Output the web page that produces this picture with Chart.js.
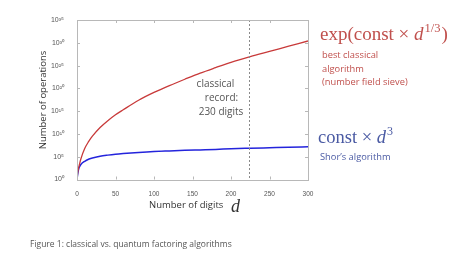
<!DOCTYPE html>
<html>
<head>
<meta charset="utf-8">
<script src="https://cdn.jsdelivr.net/npm/chart.js@4/dist/chart.umd.min.js"></script>
<style>
  html, body { margin: 0; padding: 0; background: #fff; }
  #chart { display: block; }
</style>
</head>
<body>
<canvas id="chart" width="474" height="262"></canvas>
<script>
// number of digits d (x values)
const digits = [0, 1, 2, 3, 5, 10, 15, 20, 30, 40, 50, 60, 80, 100, 120, 140, 160, 180, 200, 225, 250, 275, 300];
// log10 of operations
const classicalExp = [0, 1.6, 2.5, 3.2, 4.5, 6.8, 8.3, 9.5, 11.4, 12.9, 14.2, 15.3, 17.4, 19.1, 20.6, 22.0, 23.35, 24.55, 25.7, 26.95, 28.1, 29.25, 30.4];
const shorExp = [0, 1.3, 2.2, 2.7, 3.3, 4.0, 4.45, 4.7, 5.1, 5.35, 5.55, 5.7, 5.95, 6.15, 6.28, 6.4, 6.5, 6.6, 6.74, 6.86, 6.97, 7.08, 7.18];
// y ticks (powers of ten) and x ticks
const yTickExps = [0, 5, 10, 15, 20, 25, 30, 35];
const xTicks = [0, 50, 100, 150, 200, 250, 300];
const recordDigits = 224;

const sup = { '0': '⁰', '1': '¹', '2': '²', '3': '³', '4': '⁴', '5': '⁵', '6': '⁶', '7': '⁷', '8': '⁸', '9': '⁹' };
const toSup = n => String(n).split('').map(c => sup[c]).join('');

const RED = '#c0504d';
const BLUE = '#4a5aa3';

const toPoints = exps => digits.map((d, i) => ({ x: d, y: Math.pow(10, exps[i]) }));

const extras = {
    id: 'extras',
    afterDraw(chart) {
        const ctx = chart.ctx;
        const a = chart.chartArea;
        const xs = chart.scales.x;
        const ys = chart.scales.y;
        ctx.save();

        // record line
        const rx = Math.round(xs.getPixelForValue(recordDigits)) + 0.5;
        ctx.strokeStyle = '#8a8a8a';
        ctx.lineWidth = 1;
        ctx.setLineDash([2, 2]);
        ctx.beginPath();
        ctx.moveTo(rx, a.top);
        ctx.lineTo(rx, a.bottom);
        ctx.stroke();
        ctx.setLineDash([]);

        // box + inward ticks
        ctx.strokeStyle = '#b8b8b8';
        ctx.strokeRect(Math.round(a.left) + 0.5, Math.round(a.top) + 0.5, Math.round(a.right - a.left), Math.round(a.bottom - a.top));
        ctx.beginPath();
        xTicks.forEach(v => {
            const px = Math.round(xs.getPixelForValue(v)) + 0.5;
            ctx.moveTo(px, a.bottom); ctx.lineTo(px, a.bottom - 3);
            ctx.moveTo(px, a.top); ctx.lineTo(px, a.top + 3);
        });
        yTickExps.forEach(e => {
            const py = Math.round(ys.getPixelForValue(Math.pow(10, e))) + 0.5;
            ctx.moveTo(a.left, py); ctx.lineTo(a.left + 3, py);
            ctx.moveTo(a.right, py); ctx.lineTo(a.right - 3, py);
        });
        ctx.stroke();

        // record text
        ctx.fillStyle = '#555';
        ctx.font = '10px "Open Sans"';
        ctx.textAlign = 'center';
        ctx.textBaseline = 'middle';
        ctx.fillText('classical', 215.5, 84);
        ctx.fillText('record:', 221.5, 98);
        ctx.fillText('230 digits', 221, 112);

        // axis titles
        ctx.fillStyle = '#333';
        ctx.font = '9.5px "Open Sans"';
        ctx.save();
        ctx.translate(43, 100);
        ctx.rotate(-Math.PI / 2);
        ctx.fillText('Number of operations', 0, 0);
        ctx.restore();
        ctx.textAlign = 'left';
        ctx.fillText('Number of digits', 149, 205);
        ctx.textBaseline = 'alphabetic';
        ctx.font = 'italic 18px "Liberation Serif"';
        ctx.fillText('d', 231, 211.5);

        // classical formula
        let x = 320;
        ctx.fillStyle = RED;
        ctx.font = '19px "Liberation Serif"';
        ctx.fillText('exp(const × ', x, 40);
        x += ctx.measureText('exp(const × ').width;
        ctx.font = 'italic 19px "Liberation Serif"';
        ctx.fillText('d', x, 40);
        x += ctx.measureText('d').width + 1;
        ctx.font = '12.5px "Liberation Serif"';
        ctx.fillText('1/3', x, 32);
        x += ctx.measureText('1/3').width + 1;
        ctx.font = '19px "Liberation Serif"';
        ctx.fillText(')', x, 40);

        ctx.font = '9.3px "Open Sans"';
        ctx.textBaseline = 'middle';
        ctx.fillText('best classical', 322, 55.5);
        ctx.fillText('algorithm', 322, 69);
        ctx.fillText('(number field sieve)', 322, 82.5);

        // shor formula
        x = 318;
        ctx.fillStyle = BLUE;
        ctx.textBaseline = 'alphabetic';
        ctx.font = '18.5px "Liberation Serif"';
        ctx.fillText('const × ', x, 142.5);
        x += ctx.measureText('const × ').width;
        ctx.font = 'italic 18.5px "Liberation Serif"';
        ctx.fillText('d', x, 142.5);
        x += ctx.measureText('d').width + 1;
        ctx.font = '12px "Liberation Serif"';
        ctx.fillText('3', x, 134.5);

        ctx.font = '9.3px "Open Sans"';
        ctx.textBaseline = 'middle';
        ctx.fillText('Shor’s algorithm', 320, 157);

        // caption
        ctx.fillStyle = '#555';
        ctx.font = '8.5px "Open Sans"';
        ctx.fillText('Figure 1: classical vs. quantum factoring algorithms', 30, 244.5);

        ctx.restore();
    }
};

new Chart(document.getElementById('chart').getContext('2d'), {
    type: 'line',
    data: {
        datasets: [
            {
                label: 'classical',
                data: toPoints(classicalExp),
                borderColor: '#c83a3a',
                borderWidth: 1.3,
                pointRadius: 0,
                cubicInterpolationMode: 'monotone',
                fill: false,
            },
            {
                label: 'Shor',
                data: toPoints(shorExp),
                borderColor: '#2424dc',
                borderWidth: 1.5,
                pointRadius: 0,
                cubicInterpolationMode: 'monotone',
                fill: false,
            },
        ],
    },
    options: {
        responsive: false,
        animation: false,
        events: [],
        layout: { padding: { left: 0, right: 166, top: 20, bottom: 0 } },
        plugins: {
            legend: { display: false },
            tooltip: { enabled: false },
        },
        scales: {
            x: {
                type: 'linear',
                min: 0,
                max: 300,
                grid: { display: false },
                border: { display: false },
                afterBuildTicks: scale => { scale.ticks = xTicks.map(v => ({ value: v })); },
                afterFit: scale => { scale.height = 82.5; },
                ticks: {
                    color: '#555',
                    padding: 3,
                    maxRotation: 0,
                    font: { family: 'Liberation Sans', size: 6.5 },
                },
            },
            y: {
                type: 'logarithmic',
                min: 1,
                max: 1e35,
                grid: { display: false },
                border: { display: false },
                afterBuildTicks: scale => { scale.ticks = yTickExps.map(e => ({ value: Math.pow(10, e) })); },
                afterFit: scale => { scale.width = 77; },
                ticks: {
                    color: '#555',
                    padding: 5,
                    font: { family: 'Liberation Sans', size: 7 },
                    callback: value => '10' + toSup(Math.round(Math.log10(value))),
                },
            },
        },
    },
    plugins: [extras],
});
</script>
</body>
</html>
